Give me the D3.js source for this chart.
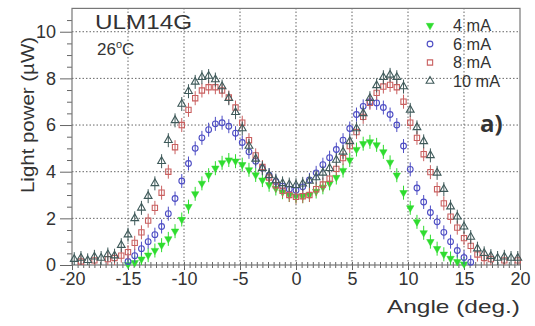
<!DOCTYPE html>
<html><head><meta charset="utf-8">
<script src="https://cdn.jsdelivr.net/npm/d3@7"></script>
<style>body{margin:0;background:#fff}svg{display:block}text{font-family:"Liberation Sans",Arial,sans-serif;fill:#333}</style>
</head><body><svg id="c" width="535" height="326"></svg>
<script>
const angles = [-19.8,-19.2,-18.6,-18,-17.4,-16.8,-16.2,-15.6,-15,-14.4,-13.8,-13.2,-12.6,-12,-11.4,-10.8,-10.2,-9.6,-9,-8.4,-7.8,-7.2,-6.6,-6,-5.4,-4.8,-4.2,-3.6,-3,-2.4,-1.8,-1.2,-0.6,0,0.6,1.2,1.8,2.4,3,3.6,4.2,4.8,5.4,6,6.6,7.2,7.8,8.4,9,9.6,10.2,10.8,11.4,12,12.6,13.2,13.8,14.4,15,15.6,16.2,16.8,17.4,18,18.6,19.2,19.8];
const p4mA = [null,null,null,null,null,null,null,null,0.02,0.1,0.25,0.42,0.62,0.85,1.12,1.45,1.95,2.5,3.05,3.5,3.85,4.15,4.38,4.5,4.45,4.3,4.08,3.86,3.64,3.44,3.28,3.12,3.0,2.95,2.95,3.0,3.15,3.33,3.5,3.75,4.05,4.5,4.95,5.2,5.28,5.15,4.85,4.4,3.85,3.1,2.45,1.85,1.38,1.0,0.7,0.46,0.28,0.14,0.04,null,null,null,null,null,null,null,null];
const p6mA = [null,null,null,null,null,null,null,null,0.15,0.4,0.7,1.0,1.3,1.65,2.2,2.85,3.6,4.35,5.0,5.45,5.8,6.05,6.1,5.95,5.65,5.25,4.85,4.45,4.15,3.85,3.58,3.38,3.25,3.2,3.35,3.65,3.95,4.3,4.6,4.95,5.35,5.85,6.45,6.8,7.0,6.95,6.75,6.45,6.0,5.1,4.1,3.3,2.7,2.25,1.85,1.4,1.0,0.62,0.32,0.12,null,null,null,null,null,null,null];
const p8mA = [null,0.15,null,0.2,null,0.25,0.3,0.4,0.55,0.95,1.4,1.9,2.45,3.1,4.0,5.05,6.0,6.65,7.15,7.48,7.62,7.62,7.48,7.18,6.75,6.1,5.35,4.7,4.2,3.75,3.42,3.18,3.0,2.92,2.95,3.0,3.25,3.45,3.7,4.12,4.58,5.1,5.7,6.35,6.95,7.38,7.65,7.72,7.62,7.0,6.1,5.45,4.75,3.98,3.25,2.64,2.07,1.6,1.15,0.82,0.45,0.3,0.25,null,0.2,null,0.2];
const p10mA = [0.25,0.3,0.2,0.35,0.3,0.45,0.4,0.85,1.3,2.0,2.45,2.95,3.5,4.45,5.35,6.2,6.9,7.45,7.85,8.05,8.1,7.95,7.65,7.15,6.55,5.85,5.1,4.55,4.15,3.85,3.62,3.5,3.45,3.42,3.48,3.6,3.75,3.95,4.15,4.5,4.85,5.3,5.85,6.5,7.15,7.7,8.05,8.15,8.05,7.65,6.65,5.9,5.3,4.7,3.95,3.25,2.5,2.07,1.64,1.2,0.7,0.5,0.38,0.3,0.35,0.3,0.3];
const seriesNames = ["4 mA","6 mA","8 mA","10 mA"];
const seriesValues = [p4mA,p6mA,p8mA,p10mA];
const xTicks = [-20,-15,-10,-5,0,5,10,15,20];
const yTicks = [0,2,4,6,8,10];

const colors = ["#2fdc2f","#4d4dc4","#c96060","#3f5a5a"];
const svg = d3.select("#c");
const x = d3.scaleLinear().domain([-20,20]).range([72,520]);
const y = d3.scaleLinear().domain([0,11]).range([265,8.4]);

// grid
const g = svg.append("g");
g.selectAll("line.vx").data(xTicks.slice(1,-1)).join("line")
  .attr("x1",d=>x(d)).attr("x2",d=>x(d)).attr("y1",y(0)).attr("y2",y(11))
  .attr("stroke","#666").attr("stroke-width",1).attr("stroke-dasharray","1.5,2");
g.selectAll("line.hy").data(yTicks.slice(1)).join("line")
  .attr("x1",x(-20)).attr("x2",x(20)).attr("y1",d=>y(d)).attr("y2",d=>y(d))
  .attr("stroke","#666").attr("stroke-width",1).attr("stroke-dasharray","1.5,2");

// axes
const yAx = svg.append("g").attr("transform",`translate(${x(-20)},0)`)
  .call(d3.axisLeft(y).tickValues(yTicks).tickSize(12).tickPadding(4));
const yMinor = svg.append("g").attr("transform",`translate(${x(-20)},0)`)
  .call(d3.axisLeft(y).tickValues(d3.range(0.5,11,0.5).filter(v=>v%2!==0)).tickSize(5).tickFormat(""));
const xAx = svg.append("g").attr("transform",`translate(0,${y(0)})`)
  .call(d3.axisBottom(x).tickValues(xTicks).tickSize(5).tickPadding(2).tickFormat(d3.format("d")));
const xMinor = svg.append("g").attr("transform",`translate(0,${y(0)-3})`)
  .call(d3.axisBottom(x).tickValues(d3.range(-20,20.01,0.5)).tickSize(6).tickFormat(""));
[yAx,yMinor,xAx,xMinor].forEach(a=>{a.select(".domain").remove();a.selectAll("line").attr("stroke","#666");});
yAx.selectAll("text").attr("font-size",18).attr("fill","#333").style("font-family","Liberation Sans, Arial, sans-serif");
xAx.selectAll("text").attr("font-size",18).attr("fill","#333").style("font-family","Liberation Sans, Arial, sans-serif").text(d=>d<0?"-"+(-d):d);

// frame
svg.append("rect").attr("x",x(-20)).attr("y",y(11)).attr("width",x(20)-x(-20)).attr("height",y(0)-y(11))
  .attr("fill","none").attr("stroke","#777").attr("stroke-width",1.2);

// markers
const symFor = [d3.symbolTriangle,d3.symbolCircle,d3.symbolSquare,d3.symbolTriangle];
const sizeFor = [24,26,28,26];
const fillFor = [colors[0],"none","none","none"];
const rotFor = [180,0,0,0];
function drawMarker(sel,i,cx,cy){
  sel.append("path").attr("d",d3.symbol().type(symFor[i]).size(sizeFor[i])())
    .attr("transform",`translate(${cx},${cy}) rotate(${rotFor[i]})`)
    .attr("fill",fillFor[i]).attr("stroke",colors[i]).attr("stroke-width",i===0?0.5:1.1);
}
seriesValues.forEach((vals,i)=>{
  const sg = svg.append("g");
  const pts = angles.map((a,k)=>({a,v:vals[k]})).filter(d=>d.v!==null);
  sg.selectAll("line").data(pts).join("line")
    .attr("x1",d=>x(d.a)).attr("x2",d=>x(d.a))
    .attr("y1",d=>y(Math.max(0,d.v-0.3))).attr("y2",d=>y(d.v+0.3))
    .attr("stroke",colors[i]).attr("stroke-width",1);
  pts.forEach(d=>drawMarker(sg,i,x(d.a),y(d.v)));
});

// legend
const legY = [25.5,44,62.5,81];
seriesNames.forEach((n,i)=>{
  const lg = svg.append("g");
  drawMarker(lg,i,430,legY[i]);
  lg.append("text").attr("x",453).attr("y",legY[i]+5.5).attr("font-size",16)
    .attr("textLength",i===3?47:38).attr("lengthAdjust","spacingAndGlyphs").text(n);
});

// labels
svg.append("text").attr("x",95).attr("y",28.5).attr("font-size",21)
  .attr("textLength",97).attr("lengthAdjust","spacingAndGlyphs").text("ULM14G");
const t26 = svg.append("text").attr("x",97).attr("y",55).attr("font-size",17);
t26.append("tspan").text("26");
t26.append("tspan").attr("font-size",11).attr("dy",-7).text("o");
t26.append("tspan").attr("dy",7).text("C");
svg.append("text").attr("x",480).attr("y",132).attr("font-size",24).attr("font-weight","bold")
  .style("font-family","Open Sans, Arial, sans-serif").attr("fill","#222").text("a)");
svg.append("text").attr("x",520).attr("y",313).attr("text-anchor","end").attr("font-size",18.5)
  .attr("textLength",133).attr("lengthAdjust","spacingAndGlyphs").text("Angle (deg.)");
svg.append("text").attr("transform","translate(34,193) rotate(-90)").attr("font-size",18)
  .attr("textLength",156).attr("lengthAdjust","spacingAndGlyphs").text("Light power (µW)");
</script></body></html>
